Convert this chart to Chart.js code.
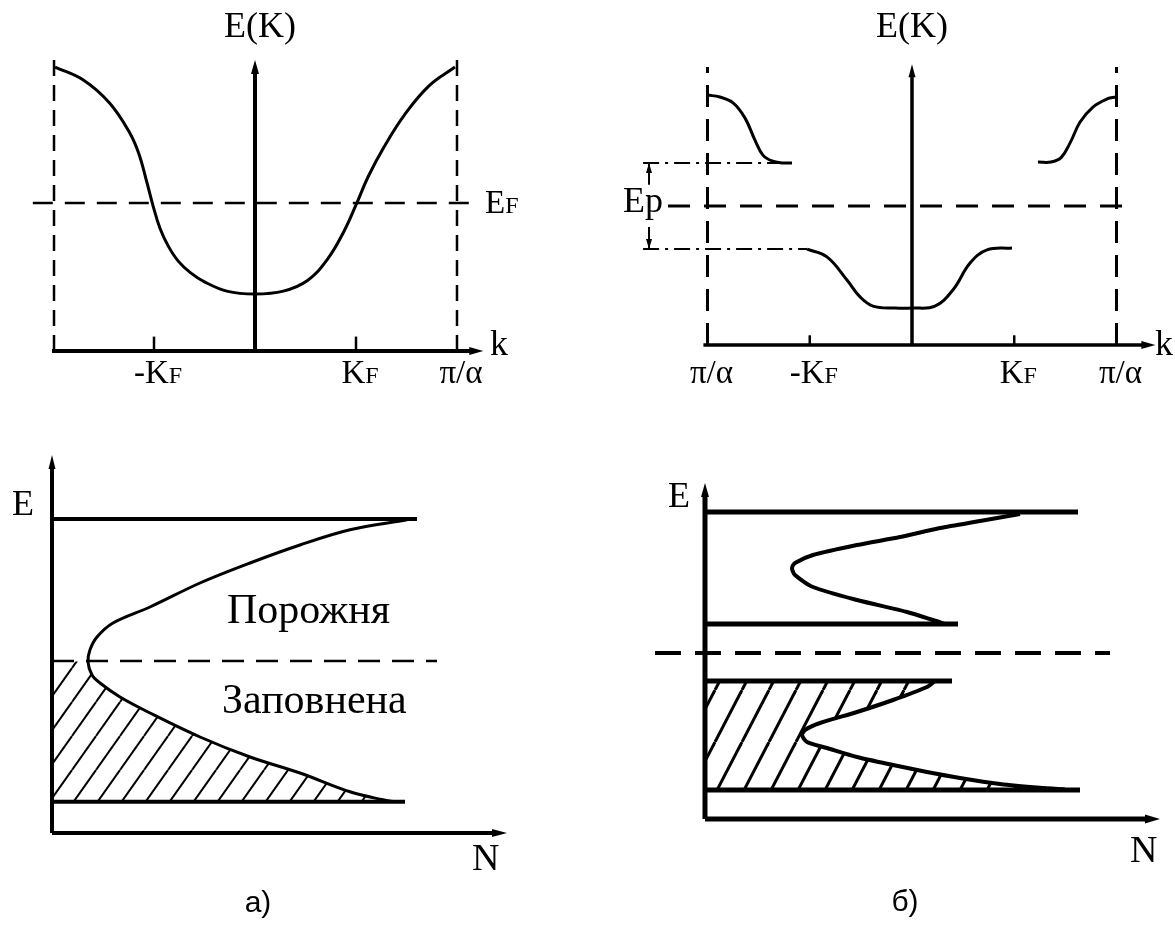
<!DOCTYPE html>
<html>
<head>
<meta charset="utf-8">
<script src="https://cdn.jsdelivr.net/npm/chart.js@4.4.1/dist/chart.umd.min.js"></script>
<style>
  html, body { margin: 0; padding: 0; background: #fff; }
  #page { position: relative; width: 1175px; height: 926px; overflow: hidden; }
  canvas { position: absolute; }
</style>
</head>
<body>
<div id="page">
  <canvas id="bandA" width="580" height="420" style="left:0;top:0"></canvas>
  <canvas id="bandB" width="595" height="420" style="left:580px;top:0"></canvas>
  <canvas id="dosA" width="580" height="496" style="left:0;top:430px"></canvas>
  <canvas id="dosB" width="595" height="496" style="left:580px;top:430px"></canvas>
</div>
<script>
// --- а) закон дисперсії E(k), k в одиницях π/α ---
const kBandA = [-0.99, -0.85, -0.72, -0.62, -0.575, -0.535, -0.505, -0.47, -0.43, -0.38, -0.32, -0.25, -0.14, 0, 0.14, 0.26, 0.36, 0.44, 0.50, 0.56, 0.64, 0.74, 0.86, 0.99];
const eBandA = [9.86, 9.41, 8.61, 7.57, 6.85, 5.85, 5.05, 4.25, 3.65, 3.12, 2.72, 2.40, 2.08, 1.98, 2.08, 2.45, 3.20, 4.15, 5.07, 6.05, 7.10, 8.20, 9.20, 9.86];
const fermiA = 5.14;
const kTicksA = [-0.5, 0.5, 1];
const kTickLabelsA = ['-K_F', 'K_F', 'π/α'];

// --- б) закон дисперсії з щілиною ---
const kUpperLeftB = [-1.0, -0.94, -0.875, -0.817, -0.768, -0.729, -0.685, -0.636, -0.587];
const eUpperLeftB = [8.99, 8.92, 8.71, 8.17, 7.37, 6.83, 6.62, 6.55, 6.55];
const kLowerB = [-0.513, -0.416, -0.318, -0.254, -0.191, -0.083, 0, 0.112, 0.20, 0.284, 0.367, 0.489];
const eLowerB = [3.45, 3.17, 2.34, 1.73, 1.40, 1.33, 1.33, 1.40, 1.98, 2.95, 3.42, 3.49];
const kUpperRightB = [0.616, 0.68, 0.73, 0.773, 0.822, 0.885, 0.954, 0.998];
const eUpperRightB = [6.58, 6.58, 6.75, 7.27, 8.02, 8.56, 8.85, 8.92];
const gapEdgesB = [3.45, 6.55];
const fermiB = 5.0;
const kTicksB = [-1, -0.5, 0.5, 1];
const kTickLabelsB = ['π/α', '-K_F', 'K_F', 'π/α'];

// --- а) густина станів N(E) ---
const nDosA = [3.55, 2.98, 2.48, 1.98, 1.48, 0.98, 0.61, 0.45, 0.38, 0.36, 0.40, 0.48, 0.68, 0.98, 1.48, 1.98, 2.48, 2.98, 3.31, 3.43];
const eDosA = [7.83, 7.58, 7.20, 6.75, 6.25, 5.65, 5.25, 4.90, 4.58, 4.28, 3.95, 3.75, 3.40, 3.00, 2.40, 1.90, 1.50, 1.03, 0.83, 0.78];
const bandEdgesA = [0.78, 7.85];
const bandEdgeLenA = [3.53, 3.65];
const dosFermiA = 4.3;
const dosTextA = ['Порожня', 'Заповнена'];

// --- б) густина станів N(E) з щілиною ---
const nDosUpperB = [3.15, 2.75, 2.35, 1.95, 1.52, 1.08, 0.90, 0.87, 0.90, 1.08, 1.52, 2.02, 2.28, 2.40];
const eDosUpperB = [7.625, 7.45, 7.275, 7.05, 6.85, 6.6, 6.4, 6.275, 6.1, 5.8, 5.475, 5.175, 4.975, 4.875];
const nDosLowerB = [2.30, 2.22, 1.88, 1.52, 1.15, 1.0, 0.97, 1.02, 1.22, 1.52, 1.88, 2.22, 2.55, 2.95, 3.35, 3.60];
const eDosLowerB = [3.45, 3.3, 2.975, 2.675, 2.4, 2.225, 2.1, 1.925, 1.775, 1.55, 1.35, 1.175, 1.025, 0.875, 0.78, 0.74];
const bandEdgesB = [0.725, 3.45, 4.875, 7.675];
const bandEdgeLenB = [3.75, 2.47, 2.53, 3.73];
const dosFermiB = 4.15;

const SERIF = '"Liberation Serif", "Times New Roman", serif';
const SANS = '"Liberation Sans", Arial, sans-serif';

function xy(xs, ys) { return xs.map((x, i) => ({ x, y: ys[i] })); }
function seg(x1, y1, x2, y2) { return [{ x: x1, y: y1 }, { x: x2, y: y2 }]; }
function lineDs(data, width, extra) {
  return Object.assign({ data, showLine: true, borderColor: '#000', borderWidth: width,
    pointRadius: 0, fill: false, tension: 0 }, extra || {});
}

// текст з нижнім індексом: "K_F" -> K + маленька F
function label(ctx, text, x, y, size, align, family) {
  const fam = family || SERIF;
  const [main, sub] = text.split('_');
  const subSize = Math.round(size * 0.72);
  ctx.font = size + 'px ' + fam;
  const w1 = ctx.measureText(main).width;
  let w2 = 0;
  if (sub) { ctx.font = subSize + 'px ' + fam; w2 = ctx.measureText(sub).width; }
  const left = align === 'center' ? x - (w1 + w2) / 2 : x;
  ctx.fillStyle = '#000';
  ctx.textAlign = 'left';
  ctx.textBaseline = 'alphabetic';
  ctx.font = size + 'px ' + fam;
  ctx.fillText(main, left, y);
  if (sub) { ctx.font = subSize + 'px ' + fam; ctx.fillText(sub, left + w1, y); }
}

function arrowUp(ctx, x, y, w, h) {
  ctx.beginPath(); ctx.moveTo(x, y); ctx.lineTo(x - w / 2, y + h); ctx.lineTo(x + w / 2, y + h); ctx.closePath(); ctx.fill();
}
function arrowDown(ctx, x, y, w, h) {
  ctx.beginPath(); ctx.moveTo(x, y); ctx.lineTo(x - w / 2, y - h); ctx.lineTo(x + w / 2, y - h); ctx.closePath(); ctx.fill();
}
function arrowRight(ctx, x, y, w, h) {
  ctx.beginPath(); ctx.moveTo(x, y); ctx.lineTo(x - h, y - w / 2); ctx.lineTo(x - h, y + w / 2); ctx.closePath(); ctx.fill();
}

// штрихування для заповнених станів
function hatch(canvasId, step, height, lw) {
  const c = document.createElement('canvas');
  c.width = step; c.height = height;
  const g = c.getContext('2d');
  g.strokeStyle = '#000'; g.lineWidth = lw;
  [-1, 0, 1].forEach(o => { g.beginPath(); g.moveTo(o * step, height); g.lineTo((o + 1) * step, 0); g.stroke(); });
  return document.getElementById(canvasId).getContext('2d').createPattern(c, 'repeat');
}

function makeChart(id, range, datasets, draw) {
  return new Chart(document.getElementById(id), {
    type: 'scatter',
    data: { datasets },
    options: {
      responsive: false,
      animation: false,
      events: [],
      layout: { padding: 0 },
      plugins: { legend: { display: false }, tooltip: { enabled: false } },
      scales: {
        x: { type: 'linear', display: false, min: range[0], max: range[1] },
        y: { type: 'linear', display: false, min: range[2], max: range[3] }
      }
    },
    plugins: [{
      id: id + 'Notes',
      afterDatasetsDraw(chart) {
        const ctx = chart.ctx;
        ctx.save();
        ctx.fillStyle = '#000';
        draw(ctx, v => chart.scales.x.getPixelForValue(v), v => chart.scales.y.getPixelForValue(v));
        ctx.restore();
      }
    }]
  });
}

// ---------- а) E(k) ----------
makeChart('bandA', [-1.2624, 1.6089, -2.396, 12.1875], [
  lineDs(xy(kBandA, eBandA), 3, { tension: 0.4 }),
  lineDs(seg(0, 0, 0, 9.8), 4),
  lineDs(seg(-1.005, 0, 1.09, 0), 4),
  lineDs(seg(-0.995, 0, -0.995, 10.28), 2.5, { borderDash: [16, 9] }),
  lineDs(seg(1, 0, 1, 10.28), 2.5, { borderDash: [16, 9] }),
  lineDs(seg(-1.10, fermiA, 1.10, fermiA), 2.5, { borderDash: [20, 12] }),
  ...kTicksA.slice(0, 2).map(k => lineDs(seg(k, 0, k, 0.5), 2.5))
], (ctx, px, py) => {
  arrowUp(ctx, px(0), py(10.1), 8, 14);
  arrowRight(ctx, px(1.13), py(0), 8, 14);
  label(ctx, 'E(K)', px(0.025), py(10.9), 36, 'center');
  kTicksA.forEach((k, i) => label(ctx, kTickLabelsA[i], px(k) + 4, py(-1.11), 33, 'center'));
  label(ctx, 'k', px(1.163), py(-0.14), 36, 'left');
  label(ctx, 'E_F', px(1.139), py(4.79), 33, 'left');
});

// ---------- б) E(k) з щілиною ----------
makeChart('bandB', [-1.6235, 1.2861, -2.698, 12.41], [
  lineDs(xy(kUpperLeftB, eUpperLeftB), 3, { tension: 0.4 }),
  lineDs(xy(kLowerB, eLowerB), 3, { tension: 0.4 }),
  lineDs(xy(kUpperRightB, eUpperRightB), 3, { tension: 0.4 }),
  lineDs(seg(0, 0, 0, 9.8), 3.5),
  lineDs(seg(-1.02, 0, 1.14, 0), 3.5),
  lineDs(seg(-1, 0, -1, 10), 3, { borderDash: [22, 12] }),
  lineDs(seg(1, 0, 1, 10), 3, { borderDash: [22, 12] }),
  lineDs(seg(-1.193, fermiB, 1.066, fermiB), 3, { borderDash: [22, 14] }),
  lineDs(seg(-1.315, gapEdgesB[1], -0.587, gapEdgesB[1]), 2, { borderDash: [16, 6, 3, 6] }),
  lineDs(seg(-1.315, gapEdgesB[0], -0.513, gapEdgesB[0]), 2, { borderDash: [16, 6, 3, 6] }),
  lineDs(seg(-1.286, gapEdgesB[1], -1.286, 5.76), 2),
  lineDs(seg(-1.286, 4.24, -1.286, gapEdgesB[0]), 2),
  ...kTicksB.slice(1, 3).map(k => lineDs(seg(k, 0, k, 0.35), 2.5))
], (ctx, px, py) => {
  arrowUp(ctx, px(0), py(10.1), 7, 13);
  arrowRight(ctx, px(1.19), py(0), 8, 14);
  arrowUp(ctx, px(-1.286), py(gapEdgesB[1]), 6, 10);
  arrowDown(ctx, px(-1.286), py(gapEdgesB[0]), 6, 10);
  label(ctx, 'E(K)', px(0), py(11.08), 36, 'center');
  kTicksB.forEach((k, i) => label(ctx, kTickLabelsB[i], px(k) + 4, py(-1.37), 33, 'center'));
  label(ctx, 'k', px(1.188), py(-0.36), 36, 'left');
  label(ctx, 'Ep', px(-1.413), py(4.78), 36, 'left');
});

// ---------- а) N(E) ----------
const hatchPolyA = [{ x: 0, y: bandEdgesA[0] }, { x: 0, y: dosFermiA }].concat(xy(nDosA, eDosA).slice(9));
makeChart('dosA', [-0.52, 5.28, -2.325, 10.075], [
  lineDs(xy(nDosA, eDosA), 3, { tension: 0.35 }),
  lineDs(seg(0, bandEdgesA[0], bandEdgeLenA[0], bandEdgesA[0]), 4),
  lineDs(seg(0, bandEdgesA[1], bandEdgeLenA[1], bandEdgesA[1]), 4),
  lineDs(seg(0, dosFermiA, 3.85, dosFermiA), 2.5, { borderDash: [22, 12] }),
  lineDs(seg(0, 0, 0, 9.1), 4),
  lineDs(seg(0, 0, 4.4, 0), 4),
  lineDs(hatchPolyA, 0, { fill: 'shape', borderColor: 'rgba(0,0,0,0)', backgroundColor: hatch('dosA', 24, 34, 2) })
], (ctx, px, py) => {
  arrowUp(ctx, px(0), py(9.45), 7, 14);
  arrowRight(ctx, px(4.55), py(0), 8, 15);
  label(ctx, 'E', px(-0.40), py(7.95), 36, 'left');
  label(ctx, 'N', px(4.2), py(-0.925), 38, 'left');
  label(ctx, dosTextA[0], px(1.75), py(5.25), 42, 'left');
  label(ctx, dosTextA[1], px(1.70), py(3.0), 42, 'left');
  label(ctx, 'а)', px(2.06), py(-1.975), 30, 'center', SANS);
});

// ---------- б) N(E) з щілиною ----------
const hatchPolyB = [{ x: 0, y: bandEdgesB[0] }, { x: 0, y: bandEdgesB[1] }].concat(xy(nDosLowerB, eDosLowerB));
makeChart('dosB', [-1.25, 4.7, -2.675, 9.725], [
  lineDs(xy(nDosUpperB, eDosUpperB), 4, { tension: 0.25 }),
  lineDs(xy(nDosLowerB, eDosLowerB), 4, { tension: 0.25 }),
  ...bandEdgesB.map((e, i) => lineDs(seg(0, e, bandEdgeLenB[i], e), 5)),
  lineDs(seg(-0.5, dosFermiB, 4.05, dosFermiB), 4, { borderDash: [26, 14] }),
  lineDs(seg(0, 0, 0, 8.1), 5),
  lineDs(seg(0, 0, 4.4, 0), 5),
  lineDs(hatchPolyB, 0, { fill: 'shape', borderColor: 'rgba(0,0,0,0)', backgroundColor: hatch('dosB', 27, 52, 3) })
], (ctx, px, py) => {
  arrowUp(ctx, px(0), py(8.4), 8, 14);
  arrowRight(ctx, px(4.55), py(0), 9, 15);
  label(ctx, 'E', px(-0.37), py(7.8), 36, 'left');
  label(ctx, 'N', px(4.25), py(-1.075), 38, 'left');
  label(ctx, 'б)', px(2.0), py(-2.3), 30, 'center', SANS);
});
</script>
</body>
</html>
